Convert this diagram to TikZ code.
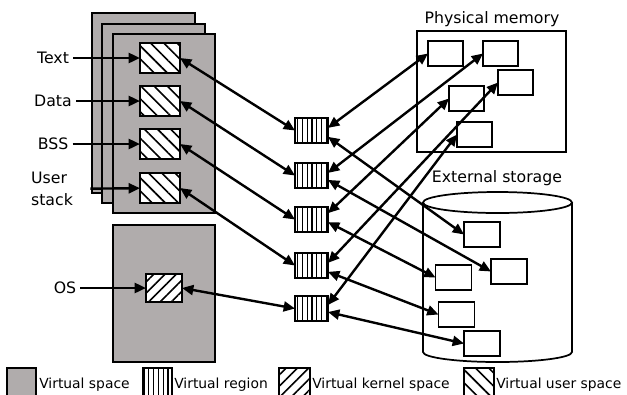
\documentclass[tikz,border=0pt]{standalone}
\usepackage{fontspec}
\setmainfont{DejaVu Sans}
\usetikzlibrary{arrows.meta, patterns.meta}

\definecolor{vgray}{RGB}{176,172,172}

\begin{document}
\begin{tikzpicture}[x=0.75pt, y=-0.75pt,
    % Define the styles for the boxes and arrows
    >={Triangle[length=8.5pt,width=7.5pt]},
    link/.style={<->, line width=1.8pt},
    feed/.style={->, line width=1.8pt},
    tag/.style={inner sep=3pt, font=\fontsize{11.8}{16.5}\selectfont},
    legendtext/.style={inner sep=0pt, anchor=base west, font=\fontsize{10.4}{12}\selectfont},
    box/.style={draw, line width=1.4pt, inner sep=0pt, outer sep=0pt, fill=white},
    userhatch/.style={preaction={fill=white}, pattern={Lines[angle=-45,distance=7pt,line width=1.2pt]}},
    kernelhatch/.style={preaction={fill=white}, pattern={Lines[angle=45,distance=6pt,line width=1.2pt]}},
    regionhatch/.style={preaction={fill=white}, pattern={Lines[angle=90,distance=3.6pt,line width=0.9pt]}},
    userbox/.style={box, userhatch, minimum width=30pt, minimum height=22.5pt},
    kernelbox/.style={box, kernelhatch, minimum width=27pt, minimum height=21pt},
    regionbox/.style={box, regionhatch, minimum width=24.75pt, minimum height=18.75pt},
    membox/.style={box, minimum width=26.25pt, minimum height=18.75pt},
    diskbox/.style={box, minimum width=27pt, minimum height=18.75pt}
]
\useasboundingbox (0,0) rectangle (627,394);
\clip (0,0) rectangle (627,394);

% Virtual spaces
\draw[line width=1.5pt, fill=vgray] (92,13) rectangle (195,193);
\draw[line width=1.5pt, fill=vgray] (102,24) rectangle (205,203);
\draw[line width=1.5pt, fill=vgray] (113,34) rectangle (215,213);
\draw[line width=1.5pt, fill=vgray] (113,225) rectangle (215,362);

% Physical memory and external storage
\draw[line width=1.3pt] (417,31) rectangle (566,152);
\node[tag] (pmTitle) at (492,19) {Physical memory};
\draw[line width=1.3pt] (423,202.5) -- (423,352) arc (180:0:74.5 and 10) -- (572,202.5);
\draw[line width=1.3pt] (497.5,202.5) ellipse (74.5 and 10.5);
\node[tag] (esTitle) at (497,178) {External storage};

% Virtual user and kernel space
\node[userbox] (u1) at (160,58) {};
\node[userbox] (u2) at (160,101) {};
\node[userbox] (u3) at (160,144) {};
\node[userbox] (u4) at (160,188) {};
\node[kernelbox] (k) at (164,288) {};

% Virtual regions
\node[regionbox] (r1) at (311.5,130.5) {};
\node[regionbox] (r2) at (311.5,175.5) {};
\node[regionbox] (r3) at (311.5,219.5) {};
\node[regionbox] (r4) at (311.5,265.5) {};
\node[regionbox] (r5) at (311.5,308.5) {};

% Pages in physical memory
\node[membox] (p1) at (445.5,53.5) {};
\node[membox] (p2) at (500.5,53.5) {};
\node[membox] (p3) at (515.5,82.5) {};
\node[membox] (p4) at (466.5,98.5) {};
\node[membox] (p5) at (474.5,134.5) {};

% Pages in external storage
\node[diskbox] (s1) at (482,234.5) {};
\node[diskbox] (s2) at (509,271.5) {};
\node[diskbox] (s3) at (453.5,277.5) {};
\node[diskbox] (s4) at (456.5,314.5) {};
\node[diskbox] (s5) at (482,343.5) {};

% Segment labels
\node[tag] (tText) at (53,58) {Text};
\node[tag] (tData) at (53,101) {Data};
\node[tag] (tBss) at (53,144) {BSS};
\node[tag, align=left] (tStack) at (52,189) {User\\stack};
\node[tag] (tOs) at (65,288) {OS};

% Draw the arrows
\draw[feed] (tText) -- (u1);
\draw[feed] (tData) -- (u2);
\draw[feed] (tBss) -- (u3);
\draw[feed, shorten <=10pt] (tStack) -- (u4);
\draw[feed] (tOs) -- (k);

\draw[link] (u1.east) -- (r1.west);
\draw[link] (u2.east) -- (r2.west);
\draw[link] (u3.east) -- (r3.west);
\draw[link] (u4.east) -- (r4.west);
\draw[link] (k.east) -- (r5.west);

\draw[link] (r1.9) -- (p1.west);
\draw[link] (r2.9) -- (p2.west);
\draw[link] (r3.21) -- (p4.west);
\draw[link] (r4.9) -- (p3.west);
\draw[link] (r5.12) -- (p5.west);

\draw[link] (r1.-21) -- (s1.west);
\draw[link] (r2.-15) -- (s2.west);
\draw[link] (r3.-9) -- (s3.west);
\draw[link] (r4.-21) -- (s4.west);
\draw[link] (r5.-12) -- (s5.west);

% Legend
\draw[line width=1.5pt, fill=vgray] (7,368) rectangle (36,400);
\node[legendtext] (lSpace) at (39,388) {Virtual space};
\draw[line width=1.2pt, regionhatch] (143,368) rectangle (172,400);
\node[legendtext] (lRegion) at (174,388) {Virtual region};
\draw[line width=1.2pt, kernelhatch] (279,368) rectangle (310,400);
\node[legendtext] (lKernel) at (312,388) {Virtual kernel space};
\draw[line width=1.2pt, userhatch] (464,368) rectangle (494,400);
\node[legendtext] (lUser) at (496,388) {Virtual user space};

\end{tikzpicture}
\end{document}
